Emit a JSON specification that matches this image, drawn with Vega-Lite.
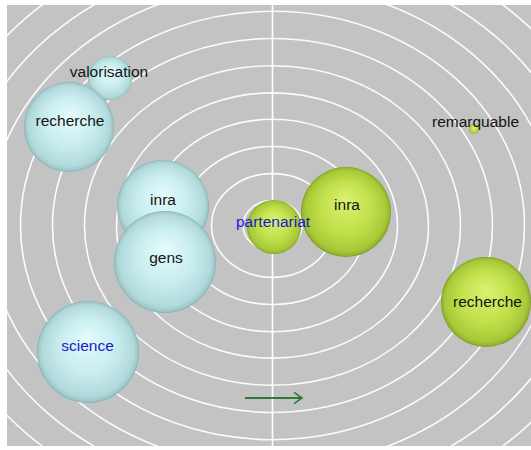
{
  "$schema": "https://vega.github.io/schema/vega-lite/v6.json",
  "width": 524,
  "height": 441,
  "autosize": {"type": "none"},
  "padding": {"left": 7, "top": 5, "right": 0, "bottom": 4},
  "background": "#ffffff",
  "view": {"fill": "#c3c3c3", "stroke": null},
  "datasets": {
    "rings": [
      {"cx": 0, "cy": 0, "a": 29.5},
      {"cx": 0, "cy": 0, "a": 61},
      {"cx": 0, "cy": 0, "a": 93},
      {"cx": 0, "cy": 0, "a": 125},
      {"cx": 0, "cy": 0, "a": 156},
      {"cx": 0, "cy": 0, "a": 188},
      {"cx": 0, "cy": 0, "a": 220},
      {"cx": 0, "cy": 0, "a": 252},
      {"cx": 0, "cy": 0, "a": 284},
      {"cx": 0, "cy": 0, "a": 315},
      {"cx": 0, "cy": 0, "a": 347},
      {"cx": 0, "cy": 0, "a": 379},
      {"cx": 0, "cy": 0, "a": 411}
    ],
    "axis": [{"x": 0}],
    "arrow": [{"x": -27.5, "x2": 29.5, "y": -172.5}],
    "bubbles": [
      {"word": "valorisation", "side": "left", "x": -162.5, "y": 147.5, "r": 22, "lx": -163.5, "ly": 153.5, "cat": "normal"},
      {"word": "recherche", "side": "left", "x": -203.5, "y": 98.5, "r": 45, "lx": -202.5, "ly": 104.5, "cat": "normal"},
      {"word": "inra", "side": "left", "x": -109.5, "y": 19.5, "r": 46, "lx": -109.5, "ly": 25.5, "cat": "normal"},
      {"word": "gens", "side": "left", "x": -107.5, "y": -36.5, "r": 51, "lx": -106.5, "ly": -32.5, "cat": "normal"},
      {"word": "science", "side": "left", "x": -184.5, "y": -126.5, "r": 51, "lx": -185, "ly": -120.5, "cat": "highlight"},
      {"word": "partenariat", "side": "right", "x": 1.5, "y": -1.5, "r": 27, "lx": 0.5, "ly": 3.5, "cat": "highlight"},
      {"word": "inra", "side": "right", "x": 73.5, "y": 13.5, "r": 45, "lx": 74.5, "ly": 20.5, "cat": "normal"},
      {"word": "remarquable", "side": "right", "x": 201.5, "y": 96.5, "r": 5, "lx": 203, "ly": 103.5, "cat": "normal"},
      {"word": "recherche", "side": "right", "x": 213.5, "y": -76.5, "r": 45, "lx": 215, "ly": -76.5, "cat": "normal"}
    ]
  },
  "layer": [
    {
      "data": {"name": "rings"},
      "mark": {
        "type": "point",
        "shape": "M-1,0C-1,-0.4694,-0.5523,-0.85,0,-0.85C0.5523,-0.85,1,-0.4694,1,0C1,0.4694,0.5523,0.85,0,0.85C-0.5523,0.85,-1,0.4694,-1,0Z",
        "filled": false,
        "color": "#ffffff",
        "stroke": "#ffffff",
        "strokeWidth": 1.6,
        "opacity": 0.95,
        "clip": true
      },
      "encoding": {
        "x": {"field": "cx", "type": "quantitative", "scale": {"domain": [-265.5, 258.5], "nice": false, "zero": false}, "axis": null},
        "y": {"field": "cy", "type": "quantitative", "scale": {"domain": [-220.5, 220.5], "nice": false, "zero": false}, "axis": null},
        "size": {"field": "a", "type": "quantitative", "scale": {"type": "pow", "exponent": 2, "domain": [0, 400], "range": [0, 640000]}, "legend": null}
      }
    },
    {
      "data": {"name": "axis"},
      "mark": {"type": "rule", "color": "#ffffff", "strokeWidth": 1.6},
      "encoding": {
        "x": {"field": "x", "type": "quantitative"}
      }
    },
    {
      "data": {"name": "arrow"},
      "mark": {"type": "rule", "color": "#2f7a3a", "strokeWidth": 2},
      "encoding": {
        "x": {"field": "x", "type": "quantitative"},
        "x2": {"field": "x2"},
        "y": {"field": "y", "type": "quantitative"}
      }
    },
    {
      "data": {"name": "arrow"},
      "mark": {"type": "point", "shape": "M-1,-0.7L0,0L-1,0.7", "filled": false, "color": "#2f7a3a", "strokeWidth": 1.6, "opacity": 1, "size": 256},
      "encoding": {
        "x": {"field": "x2", "type": "quantitative"},
        "y": {"field": "y", "type": "quantitative"}
      }
    },
    {
      "data": {"name": "bubbles"},
      "transform": [{"filter": "datum.side === 'left'"}],
      "mark": {
        "type": "point",
        "shape": "circle",
        "filled": true,
        "opacity": 1,
        "strokeWidth": 0,
        "fill": {
          "gradient": "radial",
          "x1": 0.5, "y1": 0.36, "r1": 0,
          "x2": 0.5, "y2": 0.5, "r2": 0.5,
          "stops": [
            {"offset": 0, "color": "#e4fbfb"},
            {"offset": 0.55, "color": "#c9edef"},
            {"offset": 0.9, "color": "#b1d9dc"},
            {"offset": 0.97, "color": "#9fc8cb"},
            {"offset": 1, "color": "#86b0b4"}
          ]
        }
      },
      "encoding": {
        "x": {"field": "x", "type": "quantitative"},
        "y": {"field": "y", "type": "quantitative"},
        "size": {"field": "r", "type": "quantitative", "scale": {"type": "pow", "exponent": 2, "domain": [0, 400], "range": [0, 640000]}, "legend": null}
      }
    },
    {
      "data": {"name": "bubbles"},
      "transform": [{"filter": "datum.side === 'right'"}],
      "mark": {
        "type": "point",
        "shape": "circle",
        "filled": true,
        "opacity": 1,
        "strokeWidth": 0,
        "fill": {
          "gradient": "radial",
          "x1": 0.5, "y1": 0.36, "r1": 0,
          "x2": 0.5, "y2": 0.5, "r2": 0.5,
          "stops": [
            {"offset": 0, "color": "#daf174"},
            {"offset": 0.55, "color": "#c2e14c"},
            {"offset": 0.9, "color": "#a8ca38"},
            {"offset": 0.97, "color": "#95b52f"},
            {"offset": 1, "color": "#7a9627"}
          ]
        }
      },
      "encoding": {
        "x": {"field": "x", "type": "quantitative"},
        "y": {"field": "y", "type": "quantitative"},
        "size": {"field": "r", "type": "quantitative", "scale": {"type": "pow", "exponent": 2, "domain": [0, 400], "range": [0, 640000]}, "legend": null}
      }
    },
    {
      "data": {"name": "bubbles"},
      "mark": {"type": "text", "font": "Liberation Sans", "fontSize": 15.5, "align": "center", "baseline": "middle"},
      "encoding": {
        "x": {"field": "lx", "type": "quantitative"},
        "y": {"field": "ly", "type": "quantitative"},
        "text": {"field": "word", "type": "nominal"},
        "color": {"field": "cat", "type": "nominal", "scale": {"domain": ["normal", "highlight"], "range": ["#141414", "#1a1acc"]}, "legend": null}
      }
    }
  ],
  "resolve": {"scale": {"size": "independent"}}
}
